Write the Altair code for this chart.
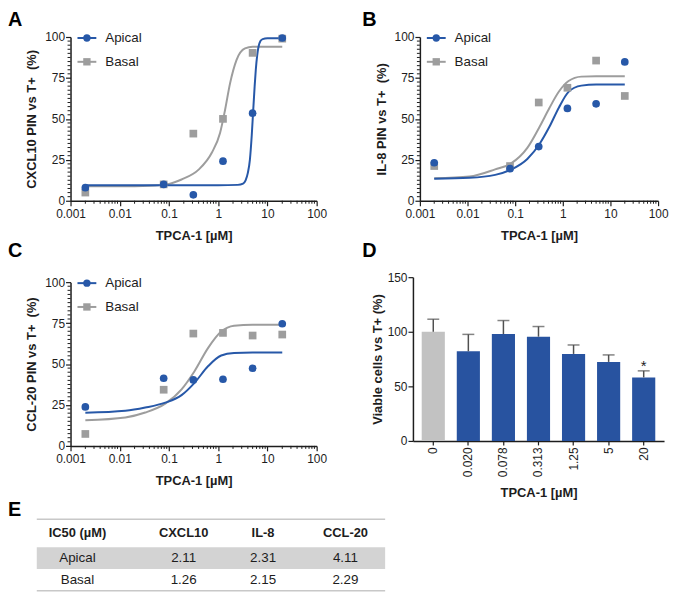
import altair as alt
import pandas as pd

# ---------------- data ----------------
panel_letters = ["A", "B", "C", "D", "E"]
series_names = ["Apical", "Basal"]
doses = [0.002, 0.078, 0.3125, 1.25, 5, 20]

cxcl10_apical = [8.0, 10.0, 3.6, 24.2, 53.5, 99.4]
cxcl10_basal = [5.0, 10.0, 41.0, 50.0, 90.3, 99.0]
il8_apical = [23.2, 19.6, 33.1, 56.4, 59.2, 84.8]
il8_basal = [21.2, 21.2, 60.0, 69.0, 85.6, 64.0]
ccl20_apical = [23.8, 41.3, 40.3, 40.7, 47.4, 74.6]
ccl20_basal = [7.3, 34.3, 68.6, 69.0, 67.4, 68.0]

# fitted dose-response curves
cxcl10_fit_apical_x = [0.002, 0.01, 0.1, 1, 2.5, 3.2, 3.6, 4.0, 4.4, 4.8, 5.1, 5.5, 5.8, 6.2, 6.6, 7.2, 8, 10, 20]
cxcl10_fit_apical_y = [9.5, 9.5, 9.5, 9.5, 9.7, 10.5, 12.5, 17, 25, 40, 53.5, 70, 80, 89, 94, 97.5, 98.7, 99.2, 99.3]
cxcl10_fit_basal_x = [0.002, 0.02, 0.04, 0.1, 0.18, 0.4, 0.74, 1.09, 1.38, 1.74, 2.35, 3.5, 5, 8, 20]
cxcl10_fit_basal_y = [8.8, 8.9, 9.1, 10.3, 13, 19, 29.3, 41.4, 55.6, 71.7, 85.9, 93, 94, 94, 94]

il8_fit_x = [0.002, 0.011, 0.038, 0.082, 0.18, 0.33, 0.52, 0.83, 1.32, 2.45, 5, 20]
il8_fit_apical_y = [13.5, 14.0, 15.8, 19.0, 25.5, 35, 45, 57, 66.5, 70.3, 71, 71]
il8_fit_basal_y = [13.7, 14.8, 19.2, 22.8, 32.3, 45.5, 56.5, 66.7, 73.1, 75.8, 76, 76]

ccl20_fit_x = [0.002, 0.013, 0.033, 0.084, 0.18, 0.33, 0.62, 1.15, 2.1, 5, 20]
ccl20_fit_apical_y = [20.2, 21.4, 23.4, 26.4, 31, 38.5, 48.6, 55.2, 56.7, 57, 57]
ccl20_fit_basal_y = [15.7, 17.4, 20.4, 25.8, 34.5, 45.6, 59.7, 69.8, 73.4, 74, 74]

via_doses = ["0", "0.020", "0.078", "0.313", "1.25", "5", "20"]
via_mean = [100, 82.1, 97.9, 95.5, 79.7, 72.4, 58.2]
via_upper = [111.5, 97.6, 110.3, 104.8, 87.9, 78.8, 64.2]
via_group = ["Control", "TPCA-1", "TPCA-1", "TPCA-1", "TPCA-1", "TPCA-1", "TPCA-1"]
via_sig = ["", "", "", "", "", "", "*"]

ic50_header = ["IC50 (µM)", "CXCL10", "IL-8", "CCL-20"]
ic50_apical = [2.11, 2.31, 4.11]
ic50_basal = [1.26, 2.15, 2.29]

# axis tick positions
x_major = [0.001, 0.01, 0.1, 1, 10, 100]
x_minor = [float(f"{m}e{e}") for e in range(-3, 2) for m in range(2, 10)]
y_major = [0, 25, 50, 75, 100]
y_minor = [i * 2.5 for i in range(41) if (i * 2.5) % 25 != 0]

# ---------------- style ----------------
FONT = "Liberation Sans"
INK = "#1d1d1d"
BLUE = "#2758A8"
GREY = "#9d9d9d"
BAR_BLUE = "#2853A0"
BAR_GREY = "#C2C2C2"

AXIS_STYLE = dict(domainColor=INK, domainWidth=1.5, tickColor=INK, tickWidth=1.2,
                  labelFont=FONT, labelFontSize=12, labelColor=INK,
                  titleFont=FONT, titleFontSize=13, titleFontWeight="bold",
                  titleColor=INK, grid=False)

color_scale = alt.Scale(domain=series_names + ["Control", "TPCA-1"],
                        range=[BLUE, GREY, BAR_GREY, BAR_BLUE])
shape_scale = alt.Scale(domain=series_names, range=["circle", "square"])


def dose_axis():
    return alt.Axis(values=x_major, format="~g", tickSize=5,
                    labelFlush=False, labelOverlap=False, labelPadding=3,
                    title="TPCA-1 [µM]", titlePadding=10, **AXIS_STYLE)


def pct_axis(title, offset):
    return alt.Axis(values=y_major, tickSize=5, labelOverlap=False, labelPadding=1,
                    title=title, titlePadding=6, offset=offset, **AXIS_STYLE)


def letter_layer(letter, lx, ly):
    return alt.Chart(pd.DataFrame({"letter": [letter]})).mark_text(
        align="left", baseline="top", fontSize=20, fontWeight="bold", font=FONT, color="#000"
    ).encode(x=alt.value(lx), y=alt.value(ly), text="letter:N")


def curve_panel(letter, ytitle, ap, ba, fx_ap, fy_ap, fx_ba, fy_ba,
                width, height, x0, x1, y0, lx, ly):
    pts = pd.DataFrame({"dose": doses * 2, "value": ap + ba,
                        "series": ["Apical"] * len(ap) + ["Basal"] * len(ba)})
    fit = pd.DataFrame({"dose": fx_ap + fx_ba, "value": fy_ap + fy_ba,
                        "series": ["Apical"] * len(fx_ap) + ["Basal"] * len(fx_ba)})
    xs = alt.Scale(type="log", domain=[0.001, 100], range=[x0, x1])
    ys = alt.Scale(domain=[0, 100], range=[height, y0])
    xax = dose_axis()
    yax = pct_axis(ytitle, -x0)
    x = alt.X("dose:Q", scale=xs, axis=xax)
    y = alt.Y("value:Q", scale=ys, axis=yax)
    color = alt.Color("series:N", scale=color_scale, legend=None)
    shape = alt.Shape("series:N", scale=shape_scale, legend=None)

    layers = []
    # minor ticks on both axes
    layers.append(alt.Chart(pd.DataFrame({"t": y_minor})).mark_rule(color=INK, strokeWidth=1)
                  .encode(y=alt.Y("t:Q", scale=ys, axis=yax), x=alt.value(x0 - 3), x2=alt.value(x0)))
    layers.append(alt.Chart(pd.DataFrame({"t": x_minor})).mark_rule(color=INK, strokeWidth=1)
                  .encode(x=alt.X("t:Q", scale=xs, axis=xax), y=alt.value(height),
                          y2=alt.value(height + 3)))
    for s in ["Basal", "Apical"]:
        layers.append(alt.Chart(fit).transform_filter(alt.datum.series == s)
                      .mark_line(strokeWidth=2, interpolate="monotone")
                      .encode(x=x, y=y, color=color))
    for s in ["Basal", "Apical"]:
        layers.append(alt.Chart(pts).transform_filter(alt.datum.series == s)
                      .mark_point(filled=True, opacity=1, size=60)
                      .encode(x=x, y=y, color=color, shape=shape))
    # legend (drawn inside the plot, top-left)
    for i, s in enumerate(series_names):
        ly_i = y0 + 1 + i * 24
        d = pd.DataFrame({"series": [s]})
        layers.append(alt.Chart(d).mark_rule(strokeWidth=2).encode(
            x=alt.value(x0 + 7), x2=alt.value(x0 + 26), y=alt.value(ly_i), color=color))
        layers.append(alt.Chart(d).mark_point(filled=True, opacity=1, size=55).encode(
            x=alt.value(x0 + 16.5), y=alt.value(ly_i), color=color, shape=shape))
        layers.append(alt.Chart(d).mark_text(align="left", baseline="middle", fontSize=13.5,
                                             font=FONT, color=INK).encode(
            x=alt.value(x0 + 35), y=alt.value(ly_i), text="series:N"))
    layers.append(letter_layer(letter, lx, ly))
    return alt.layer(*layers).properties(width=width, height=height)


A = curve_panel("A", "CXCL10 PIN vs T+\u00a0 (%)", cxcl10_apical, cxcl10_basal,
                cxcl10_fit_apical_x, cxcl10_fit_apical_y, cxcl10_fit_basal_x, cxcl10_fit_basal_y,
                248, 165, 0, 248, 0, -63, -27)
B = curve_panel("B", "IL-8 PIN vs T+\u00a0 (%)", il8_apical, il8_basal,
                il8_fit_x, il8_fit_apical_y, il8_fit_x, il8_fit_basal_y,
                247, 165, 7, 247, 0, -51, -27)
C = curve_panel("C", "CCL-20 PIN vs T+\u00a0 (%)", ccl20_apical, ccl20_basal,
                ccl20_fit_x, ccl20_fit_apical_y, ccl20_fit_x, ccl20_fit_basal_y,
                248, 170, 0, 248, 5, -63, -36)

# ---------------- panel D ----------------
via = pd.DataFrame({"dose": via_doses, "mean": via_mean, "upper": via_upper,
                    "group": via_group, "sig": via_sig})
xd = alt.X("dose:N", sort=via_doses, scale=alt.Scale(paddingInner=0.34, paddingOuter=0.25),
           axis=alt.Axis(title="TPCA-1 [µM]", labelAngle=-90, tickSize=4, labelPadding=2,
                         titlePadding=10, **AXIS_STYLE))
yaxis_d = alt.Axis(values=[0, 50, 100, 150], tickSize=5, labelPadding=1, titlePadding=3,
                   title="Viable cells vs T+ (%)", **AXIS_STYLE)
yscale_d = alt.Scale(domain=[0, 150])
base_d = alt.Chart(via)
bars = base_d.mark_bar().encode(
    x=xd, y=alt.Y("mean:Q", scale=yscale_d, axis=yaxis_d),
    color=alt.Color("group:N", scale=color_scale, legend=None))
err = base_d.mark_rule(color="#505050", strokeWidth=1.5).encode(
    x=xd, y=alt.Y("mean:Q", scale=yscale_d, axis=yaxis_d), y2="upper:Q")
cap = base_d.mark_tick(color="#505050", thickness=1.5, size=12).encode(
    x=xd, y=alt.Y("upper:Q", scale=yscale_d, axis=yaxis_d))
star = base_d.mark_text(fontSize=15, font=FONT, color=INK, baseline="alphabetic").encode(
    x=xd, y=alt.Y("upper:Q", scale=yscale_d, axis=yaxis_d), text="sig:N")
D = alt.layer(bars, err, cap, star, letter_layer("D", -51, -36)).properties(width=253, height=165)

# ---------------- panel E (table) ----------------
cells = []
for j, h in enumerate(ic50_header):
    cells.append({"col": j, "row": 0.5, "txt": h, "head": True})
for r, (name, vals) in enumerate([("Apical", ic50_apical), ("Basal", ic50_basal)]):
    cells.append({"col": 0, "row": 1.5 + r, "txt": name, "head": False})
    for j, v in enumerate(vals):
        cells.append({"col": j + 1, "row": 1.5 + r, "txt": f"{v:.2f}", "head": False})
cells = pd.DataFrame(cells)

tx = alt.Scale(domain=[-1, 0, 1, 2, 3, 4], range=[-34, 7, 114, 194, 277, 317])
ty = alt.Scale(domain=[0, 1, 2, 3], range=[2, 30, 52, 74])
band = alt.Chart(pd.DataFrame({"x": [-1], "x2": [4], "y": [1], "y2": [2]})).mark_rect(
    color="#D3D3D3").encode(x=alt.X("x:Q", scale=tx, axis=None), x2="x2:Q",
                            y=alt.Y("y:Q", scale=ty, axis=None), y2="y2:Q")
lines = alt.Chart(pd.DataFrame({"x": [-1, -1], "x2": [4, 4], "y": [0, 3]})).mark_rule(
    color="#C8C8C8", strokeWidth=1.5).encode(x=alt.X("x:Q", scale=tx, axis=None), x2="x2:Q",
                                             y=alt.Y("y:Q", scale=ty, axis=None))
head_txt = alt.Chart(cells).transform_filter("datum.head").mark_text(
    fontSize=13, fontWeight="bold", font=FONT, color=INK, baseline="middle").encode(
    x=alt.X("col:Q", scale=tx, axis=None), y=alt.Y("row:Q", scale=ty, axis=None), text="txt:N")
body_txt = alt.Chart(cells).transform_filter("!datum.head").mark_text(
    fontSize=13.5, font=FONT, color=INK, baseline="middle").encode(
    x=alt.X("col:Q", scale=tx, axis=None), y=alt.Y("row:Q", scale=ty, axis=None), text="txt:N")
E = alt.layer(band, lines, head_txt, body_txt, letter_layer("E", -63, -17)).properties(
    width=248, height=75)

chart = alt.concat(A, B, C, D, E, columns=2, spacing={"row": 72, "column": 92},
                   bounds="flush", align="all").properties(padding=0).configure_view(stroke=None)

chart.save("out.html", embed_options={"renderer": "svg", "actions": False})
